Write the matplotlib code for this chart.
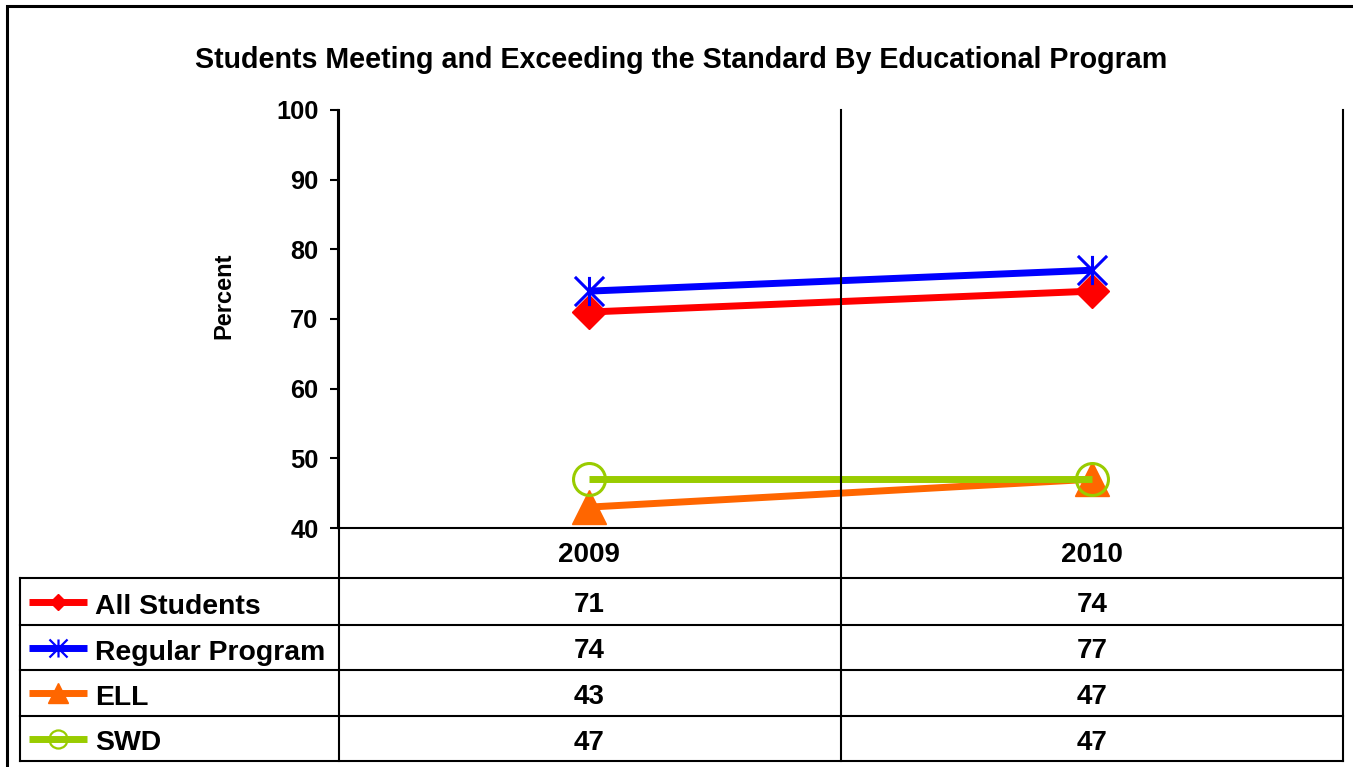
import matplotlib
matplotlib.use("Agg")
import matplotlib.pyplot as plt
from matplotlib.lines import Line2D
from matplotlib.patches import Rectangle
from matplotlib.path import Path
from matplotlib.transforms import blended_transform_factory

plt.rcParams['font.family'] = ['Liberation Sans', 'DejaVu Sans']
plt.rcParams['font.weight'] = 'bold'

title = "Students Meeting and Exceeding the Standard By Educational Program"
years = ["2009", "2010"]
series_names = ["All Students", "Regular Program", "ELL", "SWD"]
all_students = [71, 74]
regular_program = [74, 77]
ell = [43, 47]
swd = [47, 47]
y_ticks = [40, 50, 60, 70, 80, 90, 100]

# asterisk marker: vertical bar plus an X reaching the box corners
asterisk = Path([(0, -1), (0, 1), (-1, -1), (1, 1), (-1, 1), (1, -1)],
                [Path.MOVETO, Path.LINETO, Path.MOVETO, Path.LINETO,
                 Path.MOVETO, Path.LINETO])

colors = ["#FF0000", "#0000FF", "#FF6600", "#99CC00"]
markers = [
    dict(marker="D", ms=17, mfc="#FF0000", mec="#FF0000", mew=1),
    dict(marker=asterisk, ms=21, mfc="none", mec="#0000FF", mew=2.2),
    dict(marker="^", ms=25, mfc="#FF6600", mec="#FF6600", mew=1),
    dict(marker="o", ms=23, mfc="none", mec="#99CC00", mew=2.2),
]
key_sizes = [8, 13, 15, 13]
values = [all_students, regular_program, ell, swd]

W, H = 1353, 767
fig = plt.figure(figsize=(W / 100, H / 100), dpi=100)


def fx(px):
    return px / W


def fy(py):
    return 1 - py / H


ax_left, ax_right, ax_top, ax_bottom = 338, 1343, 110, 528
ax = fig.add_axes([fx(ax_left), fy(ax_bottom), fx(ax_right - ax_left),
                   (ax_bottom - ax_top) / H])

x = list(range(len(years)))
for name, vals, col, mk in zip(series_names, values, colors, markers):
    ax.plot(x, vals, color=col, lw=5, solid_capstyle="butt", clip_on=False,
            zorder=3, label=name, **mk)

ax.set_xlim(-0.5, len(years) - 0.5)
ax.set_ylim(40, 100)
ax.set_yticks(y_ticks)
ax.set_yticklabels([str(t) for t in y_ticks], fontsize=18.3, fontweight="bold")
ax.tick_params(axis="y", direction="out", length=6, width=1.5, pad=8)
ax.set_xticks([])
for side in ["top", "right", "bottom"]:
    ax.spines[side].set_visible(False)
ax.spines["left"].set_linewidth(1.5)
ax.set_ylabel("Percent", fontsize=17, fontweight="bold")
ax.yaxis.set_label_coords((235 - ax_left) / (ax_right - ax_left), 0.555)

# category separators across the plot and the table
sep_tf = blended_transform_factory(ax.transData, fig.transFigure)
row_lines = [528, 578, 625, 670, 716, 761]
table_left = 20
for xs in [i + 0.5 for i in range(len(years))][:-1]:
    fig.add_artist(Line2D([xs, xs], [fy(ax_top), fy(row_lines[-1])],
                          transform=sep_tf, color="black", lw=1.5))
for px_x in [ax_left + 1, ax_right]:
    fig.add_artist(Line2D([fx(px_x), fx(px_x)], [fy(ax_top), fy(row_lines[-1])],
                          color="black", lw=1.5))

# table rules
fig.add_artist(Line2D([fx(ax_left), fx(ax_right)], [fy(528), fy(528)],
                      color="black", lw=1.5))
for ry in row_lines[1:]:
    fig.add_artist(Line2D([fx(table_left), fx(ax_right)], [fy(ry), fy(ry)],
                          color="black", lw=1.5))
fig.add_artist(Line2D([fx(table_left), fx(table_left)],
                      [fy(row_lines[1]), fy(row_lines[-1])], color="black", lw=1.5))

# header row with years
hdr_y = (row_lines[0] + row_lines[1]) / 2
for i, yr in enumerate(years):
    fig.text(0, 0, yr, transform=sep_tf, fontsize=20, fontweight="bold",
             ha="center", va="center").set_position((i, fy(hdr_y + 2)))

# series rows: legend key, name and values
for r, (name, vals, col, mk, ks) in enumerate(
        zip(series_names, values, colors, markers, key_sizes)):
    cy = (row_lines[r + 1] + row_lines[r + 2]) / 2
    fig.add_artist(Line2D([fx(29), fx(87)], [fy(cy), fy(cy)], color=col, lw=5,
                          solid_capstyle="butt", transform=fig.transFigure))
    key = dict(mk)
    key["ms"] = ks
    key["mew"] = 1.6 if key["mfc"] == "none" else 1
    fig.add_artist(Line2D([fx(58)], [fy(cy)], lw=0,
                          transform=fig.transFigure, **key))
    fig.text(fx(95), fy(cy + 5), name, fontsize=20.4, fontweight="bold",
             ha="left", va="center")
    for i, v in enumerate(vals):
        fig.text(0, 0, str(v), transform=sep_tf, fontsize=20, fontweight="bold",
                 ha="center", va="center").set_position((i, fy(cy + 4)))

fig.text(fx(681), fy(60), title, fontsize=20.6, fontweight="bold",
         ha="center", va="center")

# chart frame
fig.add_artist(Rectangle((fx(7), fy(H + 20)), fx(W + 20), fy(6) - fy(H + 20),
                         transform=fig.transFigure, fill=False,
                         edgecolor="black", lw=2.2))

fig.savefig("out.png", dpi=100)
